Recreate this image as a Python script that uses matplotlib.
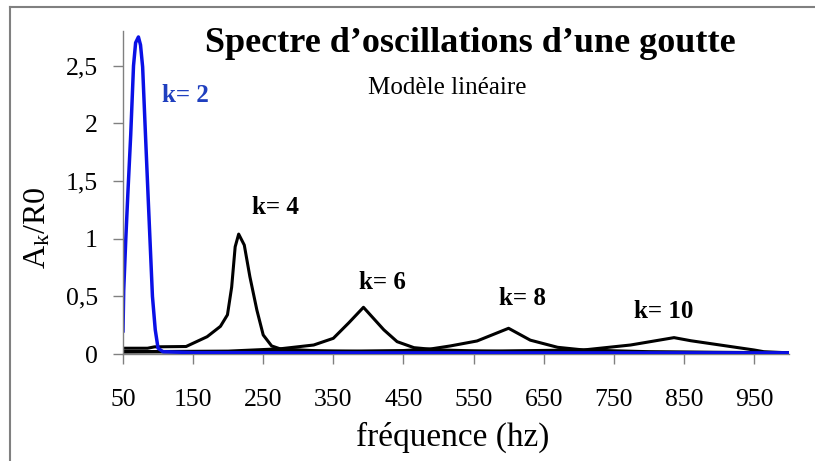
import matplotlib
matplotlib.use('Agg')
import matplotlib.pyplot as plt
from matplotlib.lines import Line2D

plt.rcParams['font.family'] = ['Liberation Serif', 'DejaVu Serif']
plt.rcParams['mathtext.default'] = 'regular'

# Spectres (fréquence en Hz, amplitude Ak/R0) pour chaque mode k
k2_f = [50, 51, 54, 57, 61, 65, 68, 72, 75, 78, 82, 86, 92, 96, 100, 107, 150, 300, 500, 700, 1000]
k2_v = [0.2, 0.55, 1.0, 1.4, 1.9, 2.5, 2.7, 2.75, 2.68, 2.49, 1.91, 1.34, 0.5, 0.21, 0.05, 0.02,
        0.012, 0.01, 0.01, 0.01, 0.01]

k4_f = [50, 85, 95, 140, 170, 189, 199, 205, 210, 215, 223, 231, 241, 250, 262, 275, 320, 400, 600, 1000]
k4_v = [0.05, 0.05, 0.062, 0.065, 0.15, 0.24, 0.34, 0.58, 0.93, 1.04, 0.945, 0.67, 0.38, 0.165,
        0.07, 0.043, 0.03, 0.02, 0.015, 0.01]

k6_f = [50, 200, 274, 322, 350, 372, 393, 422, 441, 465, 500, 600, 1000]
k6_v = [0.02, 0.025, 0.045, 0.078, 0.136, 0.27, 0.405, 0.21, 0.107, 0.055, 0.035, 0.02, 0.01]

k8_f = [50, 300, 450, 488, 517, 555, 600, 631, 670, 707, 800, 1000]
k8_v = [0.02, 0.02, 0.03, 0.043, 0.07, 0.113, 0.223, 0.12, 0.058, 0.035, 0.02, 0.01]

k10_f = [50, 500, 707, 774, 836, 860, 950, 964, 1000]
k10_v = [0.02, 0.02, 0.035, 0.078, 0.142, 0.115, 0.035, 0.02, 0.01]

x_ticks = [50, 150, 250, 350, 450, 550, 650, 750, 850, 950]
y_ticks = [0, 0.5, 1, 1.5, 2, 2.5]
y_labels = ['0', '0,5', '1', '1,5', '2', '2,5']

# étiquettes des modes : (texte, f, amplitude, couleur)
mode_labels = [('k= 2', 106, 2.24, '#1f3fbf'),
               ('k= 4', 234, 1.27, 'black'),
               ('k= 6', 386, 0.62, 'black'),
               ('k= 8', 586, 0.48, 'black'),
               ('k= 10', 779, 0.37, 'black')]

W, H = 815, 461
fig = plt.figure(figsize=(W / 100, H / 100), dpi=100)
ax = fig.add_axes([123 / W, (H - 354) / H, (789 - 123) / W, 322.8 / H])

for f, v in [(k10_f, k10_v), (k8_f, k8_v), (k6_f, k6_v), (k4_f, k4_v)]:
    ax.plot(f, v, color='black', lw=2.2, solid_joinstyle='round')
ax.plot(k2_f, k2_v, color='#0a10e6', lw=2.5, solid_joinstyle='round')

for txt, f, v, c in mode_labels:
    ax.text(f, v, txt, color=c, fontsize=18, fontweight='bold', va='center', ha='left')

ax.set_xlim(50, 1000)
ax.set_ylim(0, 2.8)
ax.set_xticks(x_ticks)
ax.set_xticklabels([str(t) for t in x_ticks])
ax.set_yticks(y_ticks)
ax.set_yticklabels(y_labels)

for s in ['top', 'right']:
    ax.spines[s].set_visible(False)
for s in ['left', 'bottom']:
    ax.spines[s].set_color('#808080')
    ax.spines[s].set_linewidth(1.0)
ax.spines['bottom'].set_zorder(0)

ax.tick_params(axis='x', direction='out', length=7, width=1, color='#808080',
               labelsize=18.5, pad=18)
ax.tick_params(axis='y', direction='out', length=7, width=1, color='#808080',
               labelsize=18.5, pad=11)

# titres et libellés des axes
fig.text(470 / W, 1 - 43 / H, 'Spectre d’oscillations d’une goutte', fontsize=26,
         fontweight='bold', ha='center', va='center')
fig.text(447 / W, 1 - 88 / H, 'Modèle linéaire', fontsize=18, ha='center', va='center')
fig.text(453 / W, 1 - 437 / H, 'fréquence (hz)', fontsize=24, ha='center', va='center')
fig.text(38 / W, 1 - 228 / H, r'A$_{k}$/R0', fontsize=23, rotation=90,
         ha='center', va='center')

# cadre du graphique
fig.add_artist(Line2D([10 / W, 10 / W], [0, 1 - 7 / H], transform=fig.transFigure,
                      color='#808080', lw=1.5))
fig.add_artist(Line2D([10 / W, 1], [1 - 7 / H, 1 - 7 / H], transform=fig.transFigure,
                      color='#808080', lw=1.5))

fig.savefig('out.png', dpi=100)
